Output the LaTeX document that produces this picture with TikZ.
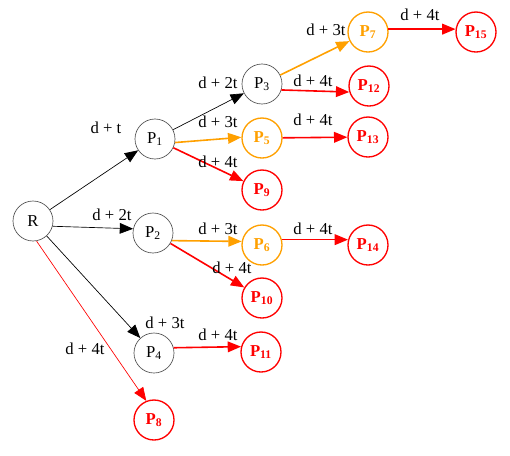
\documentclass[tikz,border=0pt]{standalone}
\usepackage{fontspec}
\setmainfont{Liberation Serif}
\usepackage{tikz}
\usetikzlibrary{arrows.meta}
\definecolor{pathred}{HTML}{FF0000}
\definecolor{pathorange}{HTML}{FFA000}
\definecolor{plaingray}{HTML}{505050}

\begin{document}
\begin{tikzpicture}[x=0.75pt, y=-0.75pt,
    every node/.style={font=\fontsize{12.5}{14}\selectfont},
    plain/.style={draw=plaingray, circle, minimum size=30pt, inner sep=0pt, line width=0.5pt},
    early/.style={draw=pathorange, circle, minimum size=30pt, inner sep=0pt, line width=1pt,
                  text=pathorange, font=\fontsize{12.5}{14}\selectfont\bfseries},
    late/.style={early, draw=pathred, text=pathred},
    arr/.style={-{Triangle[length=10pt, width=8pt]}},
    blackarr/.style={arr, line width=0.5pt},
    orangearr/.style={arr, draw=pathorange, line width=1.2pt},
    redarr/.style={arr, draw=pathred, line width=1.2pt},
    lbl/.style={inner sep=0pt},
]
\useasboundingbox (0,0) rectangle (510,455);

% Root
\node[plain] (R) at (33,221) {R};

% First level
\node[plain] (P1) at (155,139) {P\textsubscript{1}};
\node[plain] (P2) at (153,233) {P\textsubscript{2}};
\node[plain] (P4) at (154,353) {P\textsubscript{4}};
\node[late]  (P8) at (154,420) {P\textsubscript{8}};

% Second level
\node[plain] (P3)  at (262,84)  {P\textsubscript{3}};
\node[early] (P5)  at (262,138) {P\textsubscript{5}};
\node[late]  (P9)  at (262,190) {P\textsubscript{9}};
\node[early] (P6)  at (262,245) {P\textsubscript{6}};
\node[late]  (P10) at (262,298) {P\textsubscript{10}};
\node[late]  (P11) at (261,352) {P\textsubscript{11}};

% Third level
\node[early] (P7)  at (368,32)  {P\textsubscript{7}};
\node[late]  (P12) at (369,86)  {P\textsubscript{12}};
\node[late]  (P13) at (368,137) {P\textsubscript{13}};
\node[late]  (P14) at (368,245) {P\textsubscript{14}};

% Fourth level
\node[late] (P15) at (476,32) {P\textsubscript{15}};

% Edges from R
\draw[blackarr] (R) -- (P1);
\draw[blackarr] (R.-15) -- (P2.168);
\draw[blackarr] (R) -- (P4);
\draw[arr, draw=pathred, line width=0.5pt] (R.-80) -- (P8.112);

% Edges from P1, P2, P4
\draw[blackarr] (P1) -- (P3);
\draw[orangearr] (P1.-10) -- (P5.178);
\draw[redarr] (P1) -- (P9);
\draw[orangearr] (P2.-22) -- (P6.170);
\draw[redarr] (P2) -- (P10);
\draw[redarr] (P4.15) -- (P11.165);

% Edges from P3, P5, P6, P7
\draw[orangearr] (P3) -- (P7);
\draw[redarr] (P3.-17) -- (P12.197);
\draw[redarr] (P5) -- (P13);
\draw[redarr] (P6.15) -- (P14.165);
\draw[redarr] (P7.8) -- (P15.172);

% Delay labels
\node[lbl] (lR1)  at (106,128) {d + t};
\node[lbl] (lR2)  at (112,215) {d + 2t};
\node[lbl] (lR4)  at (165,323) {d + 3t};
\node[lbl] (lR8)  at (85,349)  {d + 4t};
\node[lbl] (l13)  at (218,83)  {d + 2t};
\node[lbl] (l15)  at (218,122) {d + 3t};
\node[lbl] (l19)  at (218,162) {d + 4t};
\node[lbl] (l26)  at (218,229) {d + 3t};
\node[lbl] (l210) at (232,268) {d + 4t};
\node[lbl] (l411) at (218,335) {d + 4t};
\node[lbl] (l37)  at (326,30)  {d + 3t};
\node[lbl] (l312) at (313,81)  {d + 4t};
\node[lbl] (l513) at (313,120) {d + 4t};
\node[lbl] (l614) at (313,229) {d + 4t};
\node[lbl] (l715) at (420,15)  {d + 4t};
\end{tikzpicture}
\end{document}
